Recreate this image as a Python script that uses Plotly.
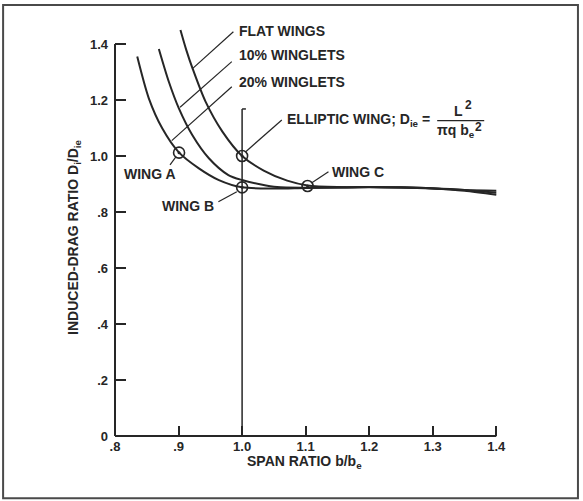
import plotly.graph_objects as go

# ---- data ----
flat_x = [0.903, 0.912, 0.922, 0.9425, 0.969, 1.0, 1.034, 1.071, 1.103, 1.15, 1.2, 1.25, 1.3, 1.35, 1.40]
flat_y = [1.450, 1.380, 1.313, 1.194, 1.087, 1.000, 0.948, 0.912, 0.895, 0.889, 0.889, 0.888, 0.884, 0.876, 0.862]

ten_x = [0.869, 0.8847, 0.9005, 0.9216, 0.9477, 0.9784, 1.0, 1.03, 1.055, 1.1, 1.15, 1.2, 1.25, 1.3, 1.35, 1.40]
ten_y = [1.382, 1.265, 1.170, 1.075, 0.992, 0.932, 0.914, 0.898, 0.889, 0.887, 0.888, 0.889, 0.888, 0.885, 0.879, 0.869]

twenty_x = [0.835, 0.8532, 0.8743, 0.9005, 0.932, 0.9635, 1.0, 1.05, 1.1, 1.15, 1.2, 1.25, 1.3, 1.35, 1.40]
twenty_y = [1.355, 1.206, 1.099, 1.013, 0.956, 0.914, 0.888, 0.884, 0.886, 0.887, 0.888, 0.887, 0.884, 0.879, 0.876]

point_names = ["WING A", "ELLIPTIC", "WING B", "WING C"]
point_x = [0.9008, 1.0, 1.0, 1.103]
point_y = [1.012, 1.0, 0.888, 0.893]

x_tickvals = [0.8, 0.9, 1.0, 1.1, 1.2, 1.3, 1.4]
x_ticktext = [".8", ".9", "1.0", "1.1", "1.2", "1.3", "1.4"]
y_tickvals = [0, 0.2, 0.4, 0.6, 0.8, 1.0, 1.2, 1.4]
y_ticktext = ["0", ".2", ".4", ".6", ".8", "1.0", "1.2", "1.4"]

INK = "#262626"
FONT = "Liberation Sans, Arial, sans-serif"

fig = go.Figure()
for xs, ys, nm in [(flat_x, flat_y, "FLAT WINGS"), (ten_x, ten_y, "10% WINGLETS"),
                   (twenty_x, twenty_y, "20% WINGLETS")]:
    fig.add_trace(go.Scatter(x=xs, y=ys, mode="lines", name=nm,
                             line=dict(color=INK, width=2, shape="spline", smoothing=0.8),
                             hoverinfo="skip"))

fig.add_trace(go.Scatter(x=point_x, y=point_y, mode="markers", text=point_names,
                         marker=dict(symbol="circle-open", size=11, color=INK,
                                     line=dict(width=1.6, color=INK)),
                         cliponaxis=False))
fig.add_trace(go.Scatter(x=point_x, y=point_y, mode="markers", hoverinfo="skip",
                         marker=dict(symbol="circle", size=3, color=INK),
                         cliponaxis=False))

shapes = []
# axis lines
shapes.append(dict(type="line", xref="paper", yref="y", x0=0, x1=0, y0=0, y1=1.4,
                   line=dict(color=INK, width=2)))
shapes.append(dict(type="line", xref="x", yref="paper", x0=0.8, x1=1.4, y0=0, y1=0,
                   line=dict(color=INK, width=2)))
# vertical reference line at b/be = 1
shapes.append(dict(type="line", xref="x", yref="y", x0=1.0, x1=1.0, y0=0, y1=1.168,
                   line=dict(color=INK, width=1.5)))
shapes.append(dict(type="line", xref="x", yref="y", x0=1.0, x1=1.006, y0=1.168, y1=1.168,
                   line=dict(color=INK, width=1.5)))

# leader lines
leaders = [
    (0.9224, 1.313, 0.9863, 1.444),
    (0.9024, 1.174, 0.9838, 1.337),
    (0.8893, 1.055, 0.9838, 1.2475),
    (1.0057, 1.0154, 1.0625, 1.1286),
    (0.8866, 0.968, 0.8961, 0.9975),
    (0.9627, 0.8368, 0.9917, 0.8725),
    (1.1098, 0.9046, 1.1359, 0.9439),
]
for x0, y0, x1, y1 in leaders:
    shapes.append(dict(type="line", xref="x", yref="y", x0=x0, y0=y0, x1=x1, y1=y1,
                       line=dict(color=INK, width=1.2)))

# fraction bar
shapes.append(dict(type="line", xref="x", yref="y", x0=1.307, x1=1.381, y0=1.126, y1=1.126,
                   line=dict(color=INK, width=1.2)))

# frame
shapes.append(dict(type="rect", xref="paper", yref="paper", x0=-0.284, x1=1.175,
                   y0=-0.148, y1=1.026, line=dict(color="#4a4a4a", width=2)))

fig.update_layout(shapes=shapes)

ann_font = dict(family=FONT, size=14, color=INK, weight="bold")
anns = [
    dict(x=0.9921, y=1.446, text="FLAT WINGS", xanchor="left"),
    dict(x=0.9921, y=1.361, text="10% WINGLETS", xanchor="left"),
    dict(x=0.9921, y=1.265, text="20% WINGLETS", xanchor="left"),
    dict(x=1.0677, y=1.1286, text="ELLIPTIC WING; D<sub>ie</sub> =", xanchor="left"),
    dict(x=1.341, y=1.162, text="L", xanchor="center"),
    dict(x=1.356, y=1.182, text="2", xanchor="center", size=12),
    dict(x=1.336, y=1.09, text="πq b<sub>e</sub>", xanchor="center"),
    dict(x=1.372, y=1.103, text="2", xanchor="center", size=12),
    dict(x=0.8551, y=0.9357, text="WING A", xanchor="center"),
    dict(x=0.915, y=0.8214, text="WING B", xanchor="center"),
    dict(x=1.1386, y=0.944, text="WING C", xanchor="left"),
]
for a in anns:
    f = dict(ann_font)
    if "size" in a:
        f["size"] = a.pop("size")
    fig.add_annotation(xref="x", yref="y", showarrow=False, yanchor="middle", font=f, **a)

# axis titles
fig.add_annotation(xref="paper", yref="paper", x=0.482, y=-0.062, showarrow=False,
                   text="SPAN RATIO b/b<sub>e</sub>", font=ann_font, xanchor="center",
                   yanchor="middle", borderpad=0)
fig.add_annotation(xref="paper", yref="paper", x=-0.104, y=0.474, showarrow=False,
                   text="INDUCED-DRAG RATIO D<sub>i</sub>/D<sub>ie</sub>", font=ann_font,
                   textangle=-90, xanchor="center", yanchor="middle")

fig.update_layout(
    width=583, height=501,
    margin=dict(l=115, r=74, t=16, b=65),
    paper_bgcolor="white", plot_bgcolor="white",
    showlegend=False,
    font=dict(family=FONT, size=13, color=INK, weight="bold"),
    xaxis=dict(range=[0.8, 1.42], tickvals=x_tickvals, ticktext=x_ticktext,
               ticks="inside", ticklen=10, tickwidth=1.5, tickcolor=INK,
               ticklabelstandoff=1,
               showgrid=False, zeroline=False, showline=False,
               tickfont=dict(family=FONT, size=13, color=INK, weight="bold")),
    yaxis=dict(range=[0, 1.5], tickvals=y_tickvals, ticktext=y_ticktext,
               ticks="inside", ticklen=11, tickwidth=1.5, tickcolor=INK,
               ticklabelstandoff=6,
               showgrid=False, zeroline=False, showline=False,
               tickfont=dict(family=FONT, size=13, color=INK, weight="bold")),
)

fig.write_html("out.html")
